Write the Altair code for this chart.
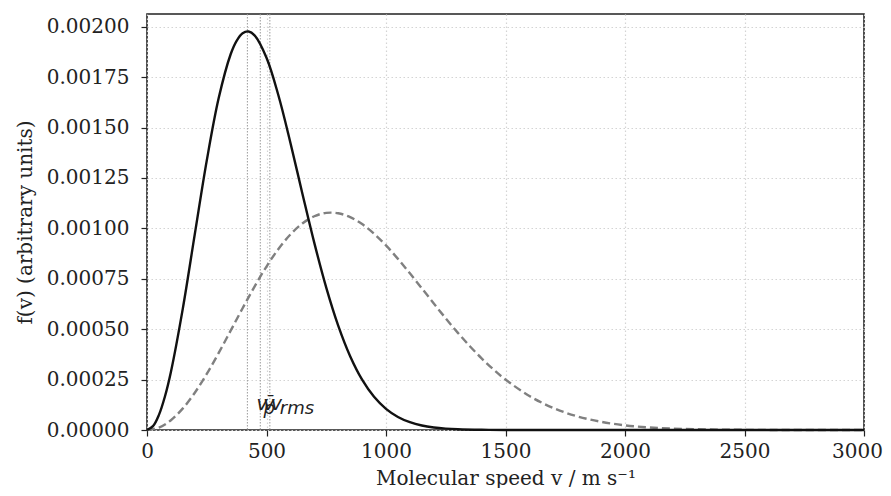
import altair as alt
import pandas as pd

# Solid curve (lower temperature / heavier gas)
v_solid = [0, 25, 50, 75, 100, 150, 200, 250, 300, 350, 375, 400, 425, 450, 500,
           550, 600, 650, 700, 750, 800, 850, 900, 950, 1000, 1050, 1100, 1150,
           1200, 1250, 1300, 1400, 1500, 2000, 2500, 3000]
f_solid = [0.0, 0.0000190, 0.0000751, 0.0001660, 0.0002878, 0.0006033, 0.0009713,
           0.0013358, 0.0016460, 0.0018633, 0.0019301, 0.0019677, 0.0019763,
           0.0019570, 0.0018458, 0.0016586, 0.0014246, 0.0011733, 0.0009281,
           0.0007063, 0.0005178, 0.0003662, 0.0002499, 0.0001649, 0.0001051,
           0.0000648, 0.0000387, 0.0000223, 0.0000125, 0.0000068, 0.0000036,
           0.0000009, 0.0000002, 0.0, 0.0, 0.0]

# Dashed curve (higher temperature / lighter gas)
v_dash = [0, 50, 100, 150, 200, 250, 300, 350, 400, 450, 500, 550, 600, 650, 700,
          750, 800, 850, 900, 950, 1000, 1050, 1100, 1150, 1200, 1250, 1300, 1350,
          1400, 1450, 1500, 1600, 1700, 1800, 1900, 2000, 2100, 2200, 2300, 2400,
          2500, 2700, 3000]
f_dash = [0.0, 0.0000123, 0.0000486, 0.0001071, 0.0001848, 0.0002780, 0.0003822,
          0.0004925, 0.0006039, 0.0007114, 0.0008107, 0.0008978, 0.0009697,
          0.0010242, 0.0010600, 0.0010768, 0.0010749, 0.0010559, 0.0010214,
          0.0009736, 0.0009153, 0.0008488, 0.0007770, 0.0007026, 0.0006274,
          0.0005537, 0.0004830, 0.0004166, 0.0003554, 0.0002997, 0.0002502,
          0.0001687, 0.0001092, 0.0000678, 0.0000405, 0.0000232, 0.0000128,
          0.0000068, 0.0000035, 0.0000017, 0.0000008, 0.0000001, 0.0]

# Characteristic speeds of the solid curve
speed_names = ["vp", "vmean", "vrms"]
speed_values = [420, 474, 514]

x_ticks = [0, 500, 1000, 1500, 2000, 2500, 3000]
y_ticks = [0.0, 0.00025, 0.0005, 0.00075, 0.001, 0.00125, 0.0015, 0.00175, 0.002]

solid_df = pd.DataFrame({"v": v_solid, "f": f_solid})
dash_df = pd.DataFrame({"v": v_dash, "f": f_dash})
speeds_df = pd.DataFrame({"name": speed_names, "v": speed_values})

FONT = "DejaVu Serif"

x_scale = alt.Scale(domain=[0, 3000], nice=False, zero=False)
y_scale = alt.Scale(domain=[0, 0.002063], nice=False)

x_enc = alt.X("v:Q", scale=x_scale, axis=alt.Axis(
    values=x_ticks, format="d", title="Molecular speed v / m s⁻¹",
    titleY=54, titleBaseline="alphabetic", labelPadding=5, labelFlush=False,
    labelOffset=alt.ExprRef(expr="datum.value == 3000 ? -7 : 0")))
y_enc = alt.Y("f:Q", scale=y_scale, axis=alt.Axis(
    values=y_ticks, format=".5f", title="f(v) (arbitrary units)",
    titleX=-122, titleY=208, titleAlign="center", titleBaseline="middle",
    titleAngle=-90, labelPadding=12, labelFlush=False))

solid = alt.Chart(solid_df).mark_line(
    color="#111111", strokeWidth=2.4, interpolate="catmull-rom"
).encode(x=x_enc, y=y_enc)

dashed = alt.Chart(dash_df).mark_line(
    color="#808080", strokeWidth=2.4, strokeDash=[8, 4], interpolate="catmull-rom"
).encode(x="v:Q", y="f:Q")

vlines = alt.Chart(speeds_df).mark_rule(
    color="#9a9a9a", strokeWidth=1, strokeDash=[1.5, 1.5]
).encode(x="v:Q")

label_y = 0.0001


def label(name, main, dx, sub=None, sub_dx=0):
    d = speeds_df[speeds_df["name"] == name].assign(f=label_y, t=main)
    layers = [alt.Chart(d).mark_text(
        font="DejaVu Sans", fontStyle="italic", fontSize=19, align="left",
        baseline="alphabetic", dx=dx, color="#222222"
    ).encode(x="v:Q", y="f:Q", text="t:N")]
    if sub:
        ds = d.assign(t=sub)
        layers.append(alt.Chart(ds).mark_text(
            font="DejaVu Sans", fontStyle="italic", fontSize=18, align="left",
            baseline="alphabetic", dx=sub_dx, dy=4, color="#222222"
        ).encode(x="v:Q", y="f:Q", text="t:N"))
    return layers


texts = []
texts += label("vp", "v", 9, "p", 16)
texts += label("vmean", "v̄", 3)
texts += label("vrms", "v", 1, "rms", 10)

chart = alt.layer(vlines, dashed, solid, *texts).properties(
    width=717, height=416,
    autosize=alt.AutoSizeParams(type="none"),
    padding={"left": 139, "top": 6, "right": 19, "bottom": 58},
).configure_view(
    stroke="#222222", strokeWidth=1.6
).configure_axis(
    labelFont=FONT, titleFont=FONT, labelFontSize=20, titleFontSize=20,
    labelColor="#222222", titleColor="#222222", titleFontWeight="normal",
    domain=False, tickColor="#222222", tickSize=6, tickWidth=1.2,
    grid=True, gridColor="#d4d4d4", gridDash=[1.5, 2.5], gridWidth=1.2
).configure_axisX(labelBaseline="top")

chart.save("out.html", embed_options={"renderer": "svg", "actions": False})
